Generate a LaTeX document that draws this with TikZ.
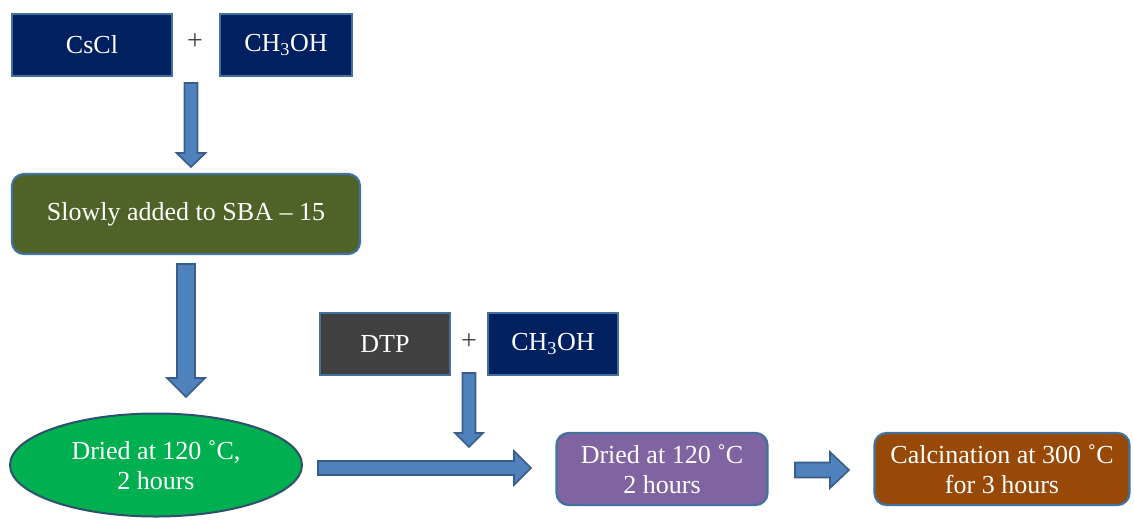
\documentclass[tikz,border=0pt]{standalone}
\usepackage{fontspec}
\setmainfont{Liberation Serif}
\usetikzlibrary{calc}
\usetikzlibrary{shapes.geometric}

\definecolor{navy}{HTML}{002060}
\definecolor{olive}{HTML}{4F6228}
\definecolor{leaf}{HTML}{00B050}
\definecolor{charcoal}{HTML}{404040}
\definecolor{lilac}{HTML}{8064A2}
\definecolor{rust}{HTML}{984807}
\definecolor{edge}{HTML}{41719C}
\definecolor{arrowfill}{HTML}{4F81BD}
\definecolor{arrowedge}{HTML}{385D8A}

\tikzset{
  box/.style={draw=edge, line width=2.2pt, text=white, align=center, inner sep=0pt,
    font=\fontsize{26}{30}\selectfont},
  rbox/.style={box, rounded corners=12pt},
  plus/.style={text=charcoal, font=\fontsize{28}{30}\selectfont},
  fat/.style n args={3}{draw=arrowedge, fill=arrowfill, line width=1.6pt, line join=miter,
    to path={
      ($(\tikztotarget)!#3pt!(\tikztostart)$) coordinate (fh)
      ($(\tikztostart)!#1pt!90:(\tikztotarget)$) -- ($(fh)!#1pt!-90:(\tikztostart)$)
      -- ($(fh)!#2pt!-90:(\tikztostart)$) -- (\tikztotarget)
      -- ($(fh)!#2pt!90:(\tikztostart)$) -- ($(fh)!#1pt!90:(\tikztostart)$)
      -- ($(\tikztostart)!#1pt!-90:(\tikztotarget)$) -- cycle}}
}

\begin{document}
\begin{tikzpicture}[x=1pt,y=1pt]
\useasboundingbox (0,0) rectangle (1134,-520);

% first mixture
\node[box, fill=navy, minimum width=160pt, minimum height=62pt] (cscl) at (92,-45) {CsCl};
\node[plus] (plusa) at (195,-42) {+};
\node[box, fill=navy, minimum width=132pt, minimum height=62pt] (meoha) at (286,-45) {CH\textsubscript{3}OH};
\node[rbox, fill=olive, minimum width=348pt, minimum height=80pt] (slow) at (186,-214) {Slowly added to SBA -- 15};
\node[ellipse, draw=edge!70!black, line width=2pt, fill=leaf, text=white, align=center,
  minimum width=292pt, minimum height=103pt, inner sep=0pt,
  font=\fontsize{26}{30}\selectfont] (dry) at (156,-465) {Dried at 120 ˚C,\\2 hours};

% second mixture
\node[box, fill=charcoal, minimum width=130pt, minimum height=62pt] (dtp) at (385,-344) {DTP};
\node[plus] (plusb) at (469,-342) {+};
\node[box, fill=navy, minimum width=130pt, minimum height=62pt] (meohb) at (553,-344) {CH\textsubscript{3}OH};
\node[rbox, fill=lilac, minimum width=211pt, minimum height=72pt] (drytwo) at (662,-469) {Dried at 120 ˚C\\2 hours};
\node[rbox, fill=rust, minimum width=255pt, minimum height=72pt] (calc) at (1002,-469) {Calcination at 300 ˚C\\for 3 hours};

% arrow ends
\coordinate (a1s) at (191,-83);  \coordinate (a1e) at (191,-167);
\coordinate (a2s) at (186,-264); \coordinate (a2e) at (186,-397);
\coordinate (a3s) at (469,-373); \coordinate (a3e) at (469,-447);
\coordinate (a4s) at (318,-468); \coordinate (a4e) at (531,-468);
\coordinate (a5s) at (795,-470); \coordinate (a5e) at (849,-470);

\draw[fat={6.5}{14.5}{14}] (a1s) to (a1e);
\draw[fat={9}{19}{19}] (a2s) to (a2e);
\draw[fat={6.5}{14}{14}] (a3s) to (a3e);
\draw[fat={7}{17}{17}] (a4s) to (a4e);
\draw[fat={7.5}{18}{19}] (a5s) to (a5e);
\end{tikzpicture}
\end{document}
